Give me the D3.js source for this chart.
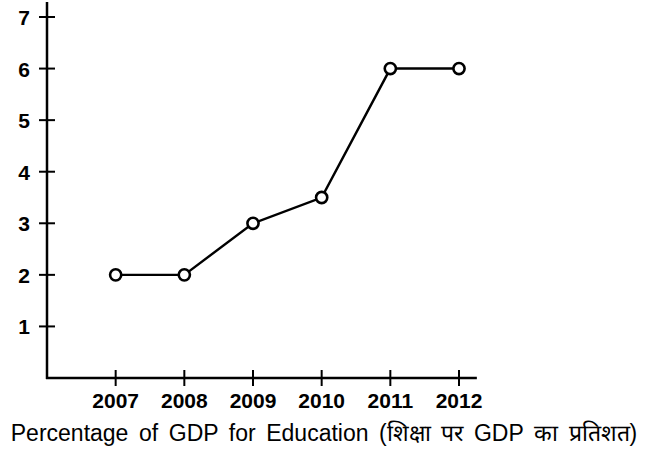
<!DOCTYPE html>
<html><head><meta charset="utf-8">
<script src="https://cdn.jsdelivr.net/npm/d3@7"></script>
<style>body{margin:0;background:#fff}svg{display:block}</style>
</head><body>
<script>
const years = [2007, 2008, 2009, 2010, 2011, 2012];
const values = [2, 2, 3, 3.5, 6, 6];
const yTicks = [1, 2, 3, 4, 5, 6, 7];
const caption = "Percentage of GDP for Education (शिक्षा पर GDP का प्रतिशत)";

const W = 650, H = 452;
const svg = d3.select("body").append("svg").attr("width", W).attr("height", H);
const x = d3.scaleLinear().domain([2006, 2012]).range([47, 459]);
const y = d3.scaleLinear().domain([0, 7]).range([378, 17]);
const font = "'Liberation Sans', Arial, sans-serif";

// axes lines
svg.append("line").attr("x1", 47).attr("x2", 47).attr("y1", 2).attr("y2", 379)
  .attr("stroke", "#000").attr("stroke-width", 2.5);
svg.append("line").attr("x1", 46).attr("x2", x(2012.26)).attr("y1", 378).attr("y2", 378)
  .attr("stroke", "#000").attr("stroke-width", 2.5);

// y ticks
const yg = svg.append("g");
yg.selectAll("line").data(yTicks).join("line")
  .attr("x1", 39).attr("x2", 55).attr("y1", d => y(d)).attr("y2", d => y(d))
  .attr("stroke", "#000").attr("stroke-width", 2);
yg.selectAll("text").data(yTicks).join("text")
  .attr("x", 30).attr("y", d => y(d) + 8).attr("text-anchor", "end")
  .attr("font-family", font).attr("font-weight", "bold").attr("font-size", 21)
  .text(d => d);

// x ticks
const xg = svg.append("g");
xg.selectAll("line").data(years).join("line")
  .attr("x1", d => x(d)).attr("x2", d => x(d)).attr("y1", 370).attr("y2", 386)
  .attr("stroke", "#000").attr("stroke-width", 2);
xg.selectAll("text").data(years).join("text")
  .attr("x", d => x(d)).attr("y", 408).attr("text-anchor", "middle")
  .attr("font-family", font).attr("font-weight", "bold").attr("font-size", 21)
  .text(d => d);

// caption
svg.append("text").attr("x", 324).attr("y", 441).attr("text-anchor", "middle")
  .attr("font-family", font).attr("font-size", 23).attr("word-spacing", 4.2)
  .text(caption);

// line
const data = years.map((yr, i) => ({ yr, v: values[i] }));
svg.append("path").datum(data)
  .attr("d", d3.line().x(d => x(d.yr)).y(d => y(d.v)))
  .attr("fill", "none").attr("stroke", "#000").attr("stroke-width", 2.4);
svg.selectAll("circle").data(data).join("circle")
  .attr("cx", d => x(d.yr)).attr("cy", d => y(d.v)).attr("r", 5.6)
  .attr("fill", "#fff").attr("stroke", "#000").attr("stroke-width", 2.6);
</script>
</body></html>
